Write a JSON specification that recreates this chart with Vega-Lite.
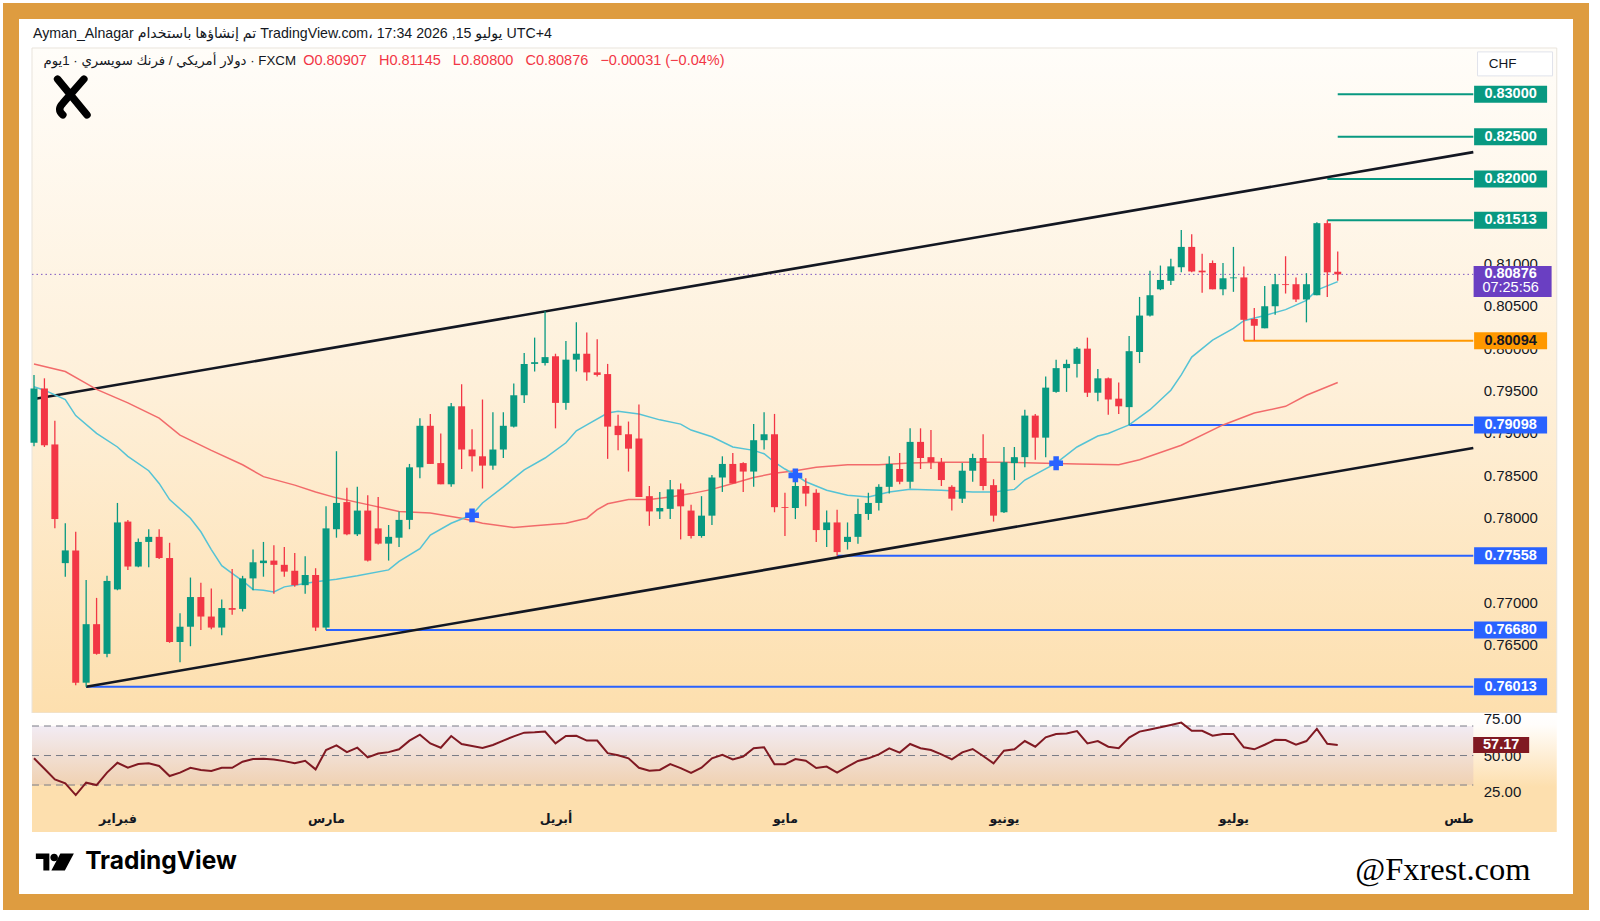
{
"$schema": "https://vega.github.io/schema/vega-lite/v6.json",
"width": 1570, "height": 891,
"autosize": {"type": "none"},
"padding": {"left": 11, "top": 11, "right": 19, "bottom": 19},
"background": "#FFFFFF",
"config": {"view": {"stroke": "#DE9C40", "strokeWidth": 16, "fill": "#FFFFFF"}, "axisY": {"disable": true}, "font": "Liberation Sans, DejaVu Sans"},
"datasets": {
"candles": [
{"d":"2026-01-21","o":0.7889,"h":0.7969,"l":0.7885,"c":0.7953},
{"d":"2026-01-22","o":0.7953,"h":0.7965,"l":0.7884,"c":0.7886},
{"d":"2026-01-23","o":0.7887,"h":0.7915,"l":0.7788,"c":0.7799},
{"d":"2026-01-26","o":0.7747,"h":0.7794,"l":0.7731,"c":0.7762},
{"d":"2026-01-27","o":0.7762,"h":0.7784,"l":0.7603,"c":0.7606},
{"d":"2026-01-28","o":0.7606,"h":0.7727,"l":0.76013,"c":0.7675},
{"d":"2026-01-29","o":0.7675,"h":0.7706,"l":0.7639,"c":0.7640},
{"d":"2026-01-30","o":0.7640,"h":0.7732,"l":0.7636,"c":0.7726},
{"d":"2026-02-02","o":0.7716,"h":0.7818,"l":0.7715,"c":0.7795},
{"d":"2026-02-03","o":0.7796,"h":0.7798,"l":0.7739,"c":0.7743},
{"d":"2026-02-04","o":0.7743,"h":0.7776,"l":0.7742,"c":0.7772},
{"d":"2026-02-05","o":0.7772,"h":0.7787,"l":0.7742,"c":0.7778},
{"d":"2026-02-06","o":0.7778,"h":0.7787,"l":0.7752,"c":0.7753},
{"d":"2026-02-09","o":0.7753,"h":0.7771,"l":0.7653,"c":0.7654},
{"d":"2026-02-10","o":0.7654,"h":0.7688,"l":0.7630,"c":0.7672},
{"d":"2026-02-11","o":0.7672,"h":0.7730,"l":0.7649,"c":0.7707},
{"d":"2026-02-12","o":0.7707,"h":0.7724,"l":0.7668,"c":0.7684},
{"d":"2026-02-13","o":0.7684,"h":0.7717,"l":0.7669,"c":0.7671},
{"d":"2026-02-16","o":0.7671,"h":0.7704,"l":0.7662,"c":0.7694},
{"d":"2026-02-17","o":0.7694,"h":0.7740,"l":0.7686,"c":0.7692},
{"d":"2026-02-18","o":0.7693,"h":0.7732,"l":0.7690,"c":0.7729},
{"d":"2026-02-19","o":0.7729,"h":0.7763,"l":0.7715,"c":0.7748},
{"d":"2026-02-20","o":0.7747,"h":0.7772,"l":0.7731,"c":0.7750},
{"d":"2026-02-23","o":0.7750,"h":0.7768,"l":0.7711,"c":0.7745},
{"d":"2026-02-24","o":0.7745,"h":0.7766,"l":0.7731,"c":0.7737},
{"d":"2026-02-25","o":0.7738,"h":0.7759,"l":0.7719,"c":0.7721},
{"d":"2026-02-26","o":0.7721,"h":0.7755,"l":0.7711,"c":0.7733},
{"d":"2026-02-27","o":0.7733,"h":0.7741,"l":0.7667,"c":0.7671},
{"d":"2026-03-02","o":0.7671,"h":0.7814,"l":0.7668,"c":0.7788},
{"d":"2026-03-03","o":0.7787,"h":0.7879,"l":0.7777,"c":0.7818},
{"d":"2026-03-04","o":0.7819,"h":0.7836,"l":0.7780,"c":0.7781},
{"d":"2026-03-05","o":0.7781,"h":0.7837,"l":0.7779,"c":0.7809},
{"d":"2026-03-06","o":0.7809,"h":0.7827,"l":0.7749,"c":0.7750},
{"d":"2026-03-09","o":0.7788,"h":0.7825,"l":0.7769,"c":0.7770},
{"d":"2026-03-10","o":0.7770,"h":0.7792,"l":0.7750,"c":0.7778},
{"d":"2026-03-11","o":0.7777,"h":0.7808,"l":0.7766,"c":0.7798},
{"d":"2026-03-12","o":0.7798,"h":0.7864,"l":0.7787,"c":0.7860},
{"d":"2026-03-13","o":0.7860,"h":0.7918,"l":0.7847,"c":0.7909},
{"d":"2026-03-16","o":0.7909,"h":0.7923,"l":0.7864,"c":0.7864},
{"d":"2026-03-17","o":0.7865,"h":0.7900,"l":0.7840,"c":0.7840},
{"d":"2026-03-18","o":0.7840,"h":0.7936,"l":0.7837,"c":0.7932},
{"d":"2026-03-19","o":0.7932,"h":0.7958,"l":0.7858,"c":0.7881},
{"d":"2026-03-20","o":0.7881,"h":0.7905,"l":0.7855,"c":0.7873},
{"d":"2026-03-23","o":0.7873,"h":0.7940,"l":0.7835,"c":0.7862},
{"d":"2026-03-24","o":0.7862,"h":0.7925,"l":0.7857,"c":0.7881},
{"d":"2026-03-25","o":0.7881,"h":0.7925,"l":0.7871,"c":0.7909},
{"d":"2026-03-26","o":0.7908,"h":0.7959,"l":0.7907,"c":0.7945},
{"d":"2026-03-27","o":0.7945,"h":0.7995,"l":0.7936,"c":0.7982},
{"d":"2026-03-30","o":0.7982,"h":0.8013,"l":0.7973,"c":0.7984},
{"d":"2026-03-31","o":0.7983,"h":0.8044,"l":0.7980,"c":0.7990},
{"d":"2026-04-01","o":0.7991,"h":0.7994,"l":0.7906,"c":0.7936},
{"d":"2026-04-02","o":0.7936,"h":0.8009,"l":0.7928,"c":0.7987},
{"d":"2026-04-03","o":0.7987,"h":0.8031,"l":0.7973,"c":0.7994},
{"d":"2026-04-06","o":0.7994,"h":0.8019,"l":0.7962,"c":0.7972},
{"d":"2026-04-07","o":0.7972,"h":0.8011,"l":0.7967,"c":0.7969},
{"d":"2026-04-08","o":0.7970,"h":0.7982,"l":0.7870,"c":0.7908},
{"d":"2026-04-09","o":0.7909,"h":0.7922,"l":0.7880,"c":0.7898},
{"d":"2026-04-10","o":0.7899,"h":0.7914,"l":0.7855,"c":0.7882},
{"d":"2026-04-13","o":0.7894,"h":0.7934,"l":0.7825,"c":0.7825},
{"d":"2026-04-14","o":0.7826,"h":0.7838,"l":0.7791,"c":0.7808},
{"d":"2026-04-15","o":0.7808,"h":0.7831,"l":0.7799,"c":0.7812},
{"d":"2026-04-16","o":0.7811,"h":0.7845,"l":0.7799,"c":0.7834},
{"d":"2026-04-17","o":0.7834,"h":0.7841,"l":0.7775,"c":0.7814},
{"d":"2026-04-20","o":0.7809,"h":0.7816,"l":0.7776,"c":0.7779},
{"d":"2026-04-21","o":0.7779,"h":0.7826,"l":0.7777,"c":0.7803},
{"d":"2026-04-22","o":0.7803,"h":0.7851,"l":0.7792,"c":0.7848},
{"d":"2026-04-23","o":0.7848,"h":0.7873,"l":0.7831,"c":0.7864},
{"d":"2026-04-24","o":0.7864,"h":0.7877,"l":0.7841,"c":0.7841},
{"d":"2026-04-27","o":0.7865,"h":0.7866,"l":0.7831,"c":0.7855},
{"d":"2026-04-28","o":0.7855,"h":0.7911,"l":0.7837,"c":0.7892},
{"d":"2026-04-29","o":0.7892,"h":0.7925,"l":0.7881,"c":0.7899},
{"d":"2026-04-30","o":0.7899,"h":0.7923,"l":0.7807,"c":0.7813},
{"d":"2026-05-01","o":0.7813,"h":0.7830,"l":0.7779,"c":0.7812},
{"d":"2026-05-04","o":0.7812,"h":0.7849,"l":0.7799,"c":0.7838},
{"d":"2026-05-05","o":0.7838,"h":0.7847,"l":0.7814,"c":0.7829},
{"d":"2026-05-06","o":0.7830,"h":0.7834,"l":0.7772,"c":0.7786},
{"d":"2026-05-07","o":0.7786,"h":0.7809,"l":0.7766,"c":0.7795},
{"d":"2026-05-08","o":0.7795,"h":0.7810,"l":0.77558,"c":0.7760},
{"d":"2026-05-11","o":0.7772,"h":0.7795,"l":0.7763,"c":0.7778},
{"d":"2026-05-12","o":0.7778,"h":0.7823,"l":0.7770,"c":0.7805},
{"d":"2026-05-13","o":0.7805,"h":0.7830,"l":0.7798,"c":0.7818},
{"d":"2026-05-14","o":0.7818,"h":0.7840,"l":0.7809,"c":0.7837},
{"d":"2026-05-15","o":0.7837,"h":0.7873,"l":0.7829,"c":0.7864},
{"d":"2026-05-18","o":0.7858,"h":0.7877,"l":0.7840,"c":0.7843},
{"d":"2026-05-19","o":0.7843,"h":0.7906,"l":0.7835,"c":0.7890},
{"d":"2026-05-20","o":0.7890,"h":0.7906,"l":0.7858,"c":0.7871},
{"d":"2026-05-21","o":0.7872,"h":0.7904,"l":0.7858,"c":0.7866},
{"d":"2026-05-22","o":0.7866,"h":0.7871,"l":0.7838,"c":0.7845},
{"d":"2026-05-25","o":0.7837,"h":0.7839,"l":0.7809,"c":0.7823},
{"d":"2026-05-26","o":0.7823,"h":0.7865,"l":0.7818,"c":0.7856},
{"d":"2026-05-27","o":0.7856,"h":0.7876,"l":0.7843,"c":0.7871},
{"d":"2026-05-28","o":0.7871,"h":0.7899,"l":0.7833,"c":0.7838},
{"d":"2026-05-29","o":0.7839,"h":0.7846,"l":0.7796,"c":0.7803},
{"d":"2026-06-01","o":0.7807,"h":0.7884,"l":0.7806,"c":0.7866},
{"d":"2026-06-02","o":0.7865,"h":0.7884,"l":0.7845,"c":0.7872},
{"d":"2026-06-03","o":0.7872,"h":0.7928,"l":0.7860,"c":0.7921},
{"d":"2026-06-04","o":0.7921,"h":0.7923,"l":0.7869,"c":0.7895},
{"d":"2026-06-05","o":0.7895,"h":0.7967,"l":0.7872,"c":0.7954},
{"d":"2026-06-08","o":0.7949,"h":0.7987,"l":0.7948,"c":0.7977},
{"d":"2026-06-09","o":0.7977,"h":0.7987,"l":0.7949,"c":0.7982},
{"d":"2026-06-10","o":0.7982,"h":0.8002,"l":0.7966,"c":0.8000},
{"d":"2026-06-11","o":0.8000,"h":0.8013,"l":0.7943,"c":0.7948},
{"d":"2026-06-12","o":0.7948,"h":0.7976,"l":0.7938,"c":0.7965},
{"d":"2026-06-15","o":0.7965,"h":0.7966,"l":0.7922,"c":0.7940},
{"d":"2026-06-16","o":0.7941,"h":0.7960,"l":0.7923,"c":0.7932},
{"d":"2026-06-17","o":0.7931,"h":0.8015,"l":0.79098,"c":0.7997},
{"d":"2026-06-18","o":0.7996,"h":0.8061,"l":0.7983,"c":0.8039},
{"d":"2026-06-19","o":0.8039,"h":0.8092,"l":0.8038,"c":0.8063},
{"d":"2026-06-22","o":0.8070,"h":0.8098,"l":0.8069,"c":0.8081},
{"d":"2026-06-23","o":0.8080,"h":0.8106,"l":0.8075,"c":0.8097},
{"d":"2026-06-24","o":0.8096,"h":0.8140,"l":0.8090,"c":0.8120},
{"d":"2026-06-25","o":0.8120,"h":0.8135,"l":0.8090,"c":0.8091},
{"d":"2026-06-26","o":0.8092,"h":0.8112,"l":0.8066,"c":0.8090},
{"d":"2026-06-29","o":0.8101,"h":0.8104,"l":0.8070,"c":0.8070},
{"d":"2026-06-30","o":0.8070,"h":0.8101,"l":0.8063,"c":0.8083},
{"d":"2026-07-01","o":0.8083,"h":0.8120,"l":0.8067,"c":0.8084},
{"d":"2026-07-02","o":0.8084,"h":0.8097,"l":0.80094,"c":0.8034},
{"d":"2026-07-03","o":0.8035,"h":0.8048,"l":0.8010,"c":0.8027},
{"d":"2026-07-06","o":0.8024,"h":0.8074,"l":0.8024,"c":0.8050},
{"d":"2026-07-07","o":0.8050,"h":0.8088,"l":0.8040,"c":0.8076},
{"d":"2026-07-08","o":0.8076,"h":0.8109,"l":0.8065,"c":0.8075},
{"d":"2026-07-09","o":0.8076,"h":0.8084,"l":0.8055,"c":0.8058},
{"d":"2026-07-10","o":0.8058,"h":0.8089,"l":0.8031,"c":0.8076},
{"d":"2026-07-13","o":0.8063,"h":0.8149,"l":0.8063,"c":0.8148},
{"d":"2026-07-14","o":0.8148,"h":0.81513,"l":0.8061,"c":0.8090},
{"d":"2026-07-15","o":0.80907,"h":0.81145,"l":0.80800,"c":0.80876}
],
"rsi": [
{"d":"2026-01-21","v":48.1},{"d":"2026-01-22","v":41.0},{"d":"2026-01-23","v":33.8},{"d":"2026-01-26","v":31.1},{"d":"2026-01-27","v":23.2},{"d":"2026-01-28","v":31.6},{"d":"2026-01-29","v":30.0},{"d":"2026-01-30","v":38.4},
{"d":"2026-02-02","v":45.1},{"d":"2026-02-03","v":41.7},{"d":"2026-02-04","v":44.2},{"d":"2026-02-05","v":44.7},{"d":"2026-02-06","v":42.9},{"d":"2026-02-09","v":36.1},{"d":"2026-02-10","v":38.4},{"d":"2026-02-11","v":41.7},{"d":"2026-02-12","v":40.2},{"d":"2026-02-13","v":39.5},{"d":"2026-02-16","v":41.7},{"d":"2026-02-17","v":41.7},{"d":"2026-02-18","v":45.8},{"d":"2026-02-19","v":47.6},{"d":"2026-02-20","v":47.8},{"d":"2026-02-23","v":47.3},{"d":"2026-02-24","v":46.2},{"d":"2026-02-25","v":44.7},{"d":"2026-02-26","v":46.4},{"d":"2026-02-27","v":40.6},
{"d":"2026-03-02","v":53.7},{"d":"2026-03-03","v":56.9},{"d":"2026-03-04","v":52.3},{"d":"2026-03-05","v":55.3},{"d":"2026-03-06","v":48.7},{"d":"2026-03-09","v":51.4},{"d":"2026-03-10","v":52.3},{"d":"2026-03-11","v":54.2},{"d":"2026-03-12","v":60.1},{"d":"2026-03-13","v":64.1},{"d":"2026-03-16","v":58.2},{"d":"2026-03-17","v":55.3},{"d":"2026-03-18","v":63.2},{"d":"2026-03-19","v":57.8},{"d":"2026-03-20","v":56.4},{"d":"2026-03-23","v":55.1},{"d":"2026-03-24","v":57.1},{"d":"2026-03-25","v":60.1},{"d":"2026-03-26","v":63.0},{"d":"2026-03-27","v":65.5},{"d":"2026-03-30","v":65.7},{"d":"2026-03-31","v":66.2},
{"d":"2026-04-01","v":58.2},{"d":"2026-04-02","v":63.2},{"d":"2026-04-03","v":63.4},{"d":"2026-04-06","v":60.1},{"d":"2026-04-07","v":60.1},{"d":"2026-04-08","v":51.6},{"d":"2026-04-09","v":50.2},{"d":"2026-04-10","v":48.1},{"d":"2026-04-13","v":41.7},{"d":"2026-04-14","v":39.7},{"d":"2026-04-15","v":40.2},{"d":"2026-04-16","v":44.2},{"d":"2026-04-17","v":41.5},{"d":"2026-04-20","v":38.2},{"d":"2026-04-21","v":41.7},{"d":"2026-04-22","v":48.1},{"d":"2026-04-23","v":50.5},{"d":"2026-04-24","v":47.4},{"d":"2026-04-27","v":49.3},{"d":"2026-04-28","v":54.9},{"d":"2026-04-29","v":55.6},{"d":"2026-04-30","v":44.0},
{"d":"2026-05-01","v":44.0},{"d":"2026-05-04","v":47.6},{"d":"2026-05-05","v":46.5},{"d":"2026-05-06","v":41.5},{"d":"2026-05-07","v":42.5},{"d":"2026-05-08","v":38.4},{"d":"2026-05-11","v":42.5},{"d":"2026-05-12","v":46.3},{"d":"2026-05-13","v":48.1},{"d":"2026-05-14","v":50.8},{"d":"2026-05-15","v":54.9},{"d":"2026-05-18","v":52.0},{"d":"2026-05-19","v":57.8},{"d":"2026-05-20","v":54.9},{"d":"2026-05-21","v":53.7},{"d":"2026-05-22","v":50.8},{"d":"2026-05-25","v":47.4},{"d":"2026-05-26","v":52.1},{"d":"2026-05-27","v":54.4},{"d":"2026-05-28","v":49.7},{"d":"2026-05-29","v":44.7},
{"d":"2026-06-01","v":53.3},{"d":"2026-06-02","v":54.2},{"d":"2026-06-03","v":59.8},{"d":"2026-06-04","v":56.0},{"d":"2026-06-05","v":62.3},{"d":"2026-06-08","v":64.6},{"d":"2026-06-09","v":65.0},{"d":"2026-06-10","v":66.6},{"d":"2026-06-11","v":58.2},{"d":"2026-06-12","v":59.8},{"d":"2026-06-15","v":56.0},{"d":"2026-06-16","v":54.9},{"d":"2026-06-17","v":62.1},{"d":"2026-06-18","v":66.2},{"d":"2026-06-19","v":67.7},{"d":"2026-06-22","v":69.1},{"d":"2026-06-23","v":70.7},{"d":"2026-06-24","v":72.3},{"d":"2026-06-25","v":66.8},{"d":"2026-06-26","v":66.8},{"d":"2026-06-29","v":63.4},{"d":"2026-06-30","v":64.6},
{"d":"2026-07-01","v":64.6},{"d":"2026-07-02","v":55.6},{"d":"2026-07-03","v":54.2},{"d":"2026-07-06","v":57.3},{"d":"2026-07-07","v":60.7},{"d":"2026-07-08","v":60.5},{"d":"2026-07-09","v":57.3},{"d":"2026-07-10","v":59.8},{"d":"2026-07-13","v":68.0},{"d":"2026-07-14","v":58.0},{"d":"2026-07-15","v":57.17}
],
"fast": [
{"d":"2026-01-21","v":0.7955},{"d":"2026-01-22","v":0.7951},{"d":"2026-01-26","v":0.7940},{"d":"2026-01-27","v":0.7921},{"d":"2026-01-29","v":0.7900},{"d":"2026-02-02","v":0.7884},{"d":"2026-02-03","v":0.7873},{"d":"2026-02-05","v":0.7856},{"d":"2026-02-06","v":0.7841},{"d":"2026-02-09","v":0.7822},{"d":"2026-02-11","v":0.7800},{"d":"2026-02-12","v":0.7784},{"d":"2026-02-13","v":0.7763},{"d":"2026-02-16","v":0.7744},{"d":"2026-02-17","v":0.7735},{"d":"2026-02-18","v":0.7726},{"d":"2026-02-19","v":0.7716},{"d":"2026-02-20","v":0.7715},{"d":"2026-02-23","v":0.7713},{"d":"2026-02-24","v":0.7719},{"d":"2026-02-26","v":0.7723},{"d":"2026-02-27","v":0.7725},{"d":"2026-03-03","v":0.7728},{"d":"2026-03-05","v":0.7732},{"d":"2026-03-10","v":0.7739},{"d":"2026-03-11","v":0.7749},{"d":"2026-03-13","v":0.7764},{"d":"2026-03-16","v":0.7780},{"d":"2026-03-18","v":0.7794},{"d":"2026-03-20","v":0.7804},{"d":"2026-03-23","v":0.7818},{"d":"2026-03-25","v":0.7837},{"d":"2026-03-27","v":0.7857},{"d":"2026-03-31","v":0.7871},{"d":"2026-04-02","v":0.7889},{"d":"2026-04-03","v":0.7903},{"d":"2026-04-06","v":0.7910},{"d":"2026-04-08","v":0.7924},{"d":"2026-04-09","v":0.7926},{"d":"2026-04-13","v":0.7923},{"d":"2026-04-15","v":0.7916},{"d":"2026-04-17","v":0.7911},{"d":"2026-04-20","v":0.7904},{"d":"2026-04-22","v":0.7896},{"d":"2026-04-24","v":0.7884},{"d":"2026-04-28","v":0.7880},{"d":"2026-04-29","v":0.7876},{"d":"2026-04-30","v":0.7866},{"d":"2026-05-01","v":0.7858},{"d":"2026-05-04","v":0.7851},{"d":"2026-05-05","v":0.7843},{"d":"2026-05-07","v":0.7833},{"d":"2026-05-11","v":0.7827},{"d":"2026-05-13","v":0.7825},{"d":"2026-05-15","v":0.7831},{"d":"2026-05-19","v":0.7834},{"d":"2026-05-22","v":0.7833},{"d":"2026-05-27","v":0.7831},{"d":"2026-05-29","v":0.7831},{"d":"2026-06-02","v":0.7834},{"d":"2026-06-03","v":0.7845},{"d":"2026-06-08","v":0.7865},{"d":"2026-06-10","v":0.7884},{"d":"2026-06-12","v":0.7897},{"d":"2026-06-15","v":0.7900},{"d":"2026-06-16","v":0.7905},{"d":"2026-06-17","v":0.7910},{"d":"2026-06-19","v":0.7928},{"d":"2026-06-23","v":0.7951},{"d":"2026-06-24","v":0.7969},{"d":"2026-06-25","v":0.7990},{"d":"2026-06-29","v":0.8010},{"d":"2026-07-01","v":0.8024},{"d":"2026-07-02","v":0.8033},{"d":"2026-07-06","v":0.8039},{"d":"2026-07-08","v":0.8046},{"d":"2026-07-10","v":0.8057},{"d":"2026-07-13","v":0.8069},{"d":"2026-07-15","v":0.8079}
],
"slow": [
{"d":"2026-01-21","v":0.7982},{"d":"2026-01-26","v":0.7973},{"d":"2026-01-28","v":0.7959},{"d":"2026-01-29","v":0.7952},{"d":"2026-02-03","v":0.7936},{"d":"2026-02-06","v":0.7918},{"d":"2026-02-10","v":0.7898},{"d":"2026-02-13","v":0.7880},{"d":"2026-02-18","v":0.7863},{"d":"2026-02-20","v":0.7849},{"d":"2026-02-25","v":0.7839},{"d":"2026-02-27","v":0.7831},{"d":"2026-03-03","v":0.7824},{"d":"2026-03-06","v":0.7816},{"d":"2026-03-11","v":0.7808},{"d":"2026-03-16","v":0.7806},{"d":"2026-03-19","v":0.7800},{"d":"2026-03-23","v":0.7794},{"d":"2026-03-26","v":0.7789},{"d":"2026-03-30","v":0.7791},{"d":"2026-04-02","v":0.7794},{"d":"2026-04-06","v":0.7800},{"d":"2026-04-07","v":0.7810},{"d":"2026-04-08","v":0.7817},{"d":"2026-04-10","v":0.7822},{"d":"2026-04-14","v":0.7822},{"d":"2026-04-16","v":0.7825},{"d":"2026-04-20","v":0.7829},{"d":"2026-04-22","v":0.7834},{"d":"2026-04-24","v":0.7841},{"d":"2026-04-28","v":0.7848},{"d":"2026-04-30","v":0.7853},{"d":"2026-05-04","v":0.7856},{"d":"2026-05-06","v":0.7860},{"d":"2026-05-11","v":0.7863},{"d":"2026-05-14","v":0.7863},{"d":"2026-05-19","v":0.7865},{"d":"2026-05-22","v":0.7866},{"d":"2026-05-27","v":0.7866},{"d":"2026-06-01","v":0.7866},{"d":"2026-06-04","v":0.7865},{"d":"2026-06-10","v":0.7864},{"d":"2026-06-16","v":0.7863},{"d":"2026-06-18","v":0.7869},{"d":"2026-06-24","v":0.7886},{"d":"2026-06-30","v":0.7910},{"d":"2026-07-03","v":0.7924},{"d":"2026-07-08","v":0.7932},{"d":"2026-07-10","v":0.7945},{"d":"2026-07-15","v":0.7960}
],
"channel": [
{"name":"upper","d":"2026-01-21","p":0.79405},{"name":"upper","d":"2026-08-03","p":0.82318},
{"name":"lower","d":"2026-01-28","p":0.76013},{"name":"lower","d":"2026-08-03","p":0.78827}
],
"levels": [
{"p":0.83000,"kind":"target","start":"2026-07-15"},
{"p":0.82500,"kind":"target","start":"2026-07-15"},
{"p":0.82000,"kind":"target","start":"2026-07-14"},
{"p":0.81513,"kind":"target","start":"2026-07-14"},
{"p":0.80094,"kind":"pivot","start":"2026-07-02"},
{"p":0.79098,"kind":"support","start":"2026-06-17"},
{"p":0.77558,"kind":"support","start":"2026-05-08"},
{"p":0.76680,"kind":"support","start":"2026-03-02"},
{"p":0.76013,"kind":"support","start":"2026-01-28"}
],
"crosses": [
{"d":"2026-03-20","p":0.78034},{"d":"2026-05-04","p":0.78504},{"d":"2026-06-08","p":0.78648}
],
"ticks": [{"v":0.765},{"v":0.770},{"v":0.780},{"v":0.785},{"v":0.790},{"v":0.795},{"v":0.800},{"v":0.805},{"v":0.810}],
"rsiTicks": [{"v":75},{"v":50},{"v":25}],
"rsiLevels": [{"v":70},{"v":50},{"v":30}]
},
"layer": [
{"layer": [
 {"data": {"values": [{"pane": "main"}]},
  "mark": {"type": "rect", "xOffset": -2, "stroke": "#E9E4DC", "strokeWidth": 1,
   "color": {"gradient": "linear", "x1": 0, "y1": 0, "x2": 0, "y2": 1, "stops": [{"offset": 0, "color": "#FFFDF9"}, {"offset": 0.5, "color": "#FEF0DA"}, {"offset": 1, "color": "#FDDFAE"}]}},
  "encoding": {"x": {"datum": "2026-01-21", "type": "ordinal"}, "x2": {"datum": "2026-08-13"},
   "y": {"datum": 0.835461, "type": "quantitative", "scale": {"domain": [0.73473, 0.839825], "nice": false, "zero": false}}, "y2": {"datum": 0.757023}}},
 {"data": {"values": [{"pane": "rsi"}]},
  "mark": {"type": "rect", "xOffset": -2,
   "color": {"gradient": "linear", "x1": 0, "y1": 0, "x2": 0, "y2": 1, "stops": [{"offset": 0, "color": "#FFFFFF"}, {"offset": 0.1, "color": "#FFFDFB"}, {"offset": 0.62, "color": "#FDDFAE"}, {"offset": 1, "color": "#FDDFAE"}]}},
  "encoding": {"x": {"datum": "2026-01-21", "type": "ordinal"}, "x2": {"datum": "2026-08-13"},
   "y": {"datum": 0.757023, "type": "quantitative"}, "y2": {"datum": 0.742986}}},
 {"data": {"name": "ticks"},
  "mark": {"type": "text", "align": "left", "fontSize": 15, "color": "#131722"},
  "encoding": {"x": {"datum": "2026-08-04", "type": "ordinal"}, "y": {"field": "v", "type": "quantitative"}, "text": {"field": "v", "type": "quantitative", "format": ".5f"}}},
 {"data": {"values": [{"p": 0.80876}]},
  "mark": {"type": "rule", "xOffset": -2, "color": "#7E57C2", "strokeWidth": 1, "strokeDash": [1.5, 3]},
  "encoding": {"x": {"datum": "2026-01-21", "type": "ordinal"}, "x2": {"datum": "2026-08-03"}, "y": {"field": "p", "type": "quantitative"}}},
 {"data": {"name": "levels"},
  "mark": {"type": "rule", "strokeWidth": 2},
  "encoding": {"x": {"field": "start", "type": "ordinal"}, "x2": {"datum": "2026-08-03"}, "y": {"field": "p", "type": "quantitative"},
   "color": {"field": "kind", "type": "nominal", "scale": {"domain": ["target", "pivot", "support"], "range": ["#089981", "#FF9800", "#2962FF"]}, "legend": null}}},
 {"data": {"name": "channel"},
  "mark": {"type": "line", "color": "#131722", "strokeWidth": 2.6},
  "encoding": {"x": {"field": "d", "type": "ordinal"}, "y": {"field": "p", "type": "quantitative"}, "detail": {"field": "name"}}},
 {"data": {"name": "slow"},
  "mark": {"type": "line", "color": "#F26B6B", "strokeWidth": 1.5},
  "encoding": {"x": {"field": "d", "type": "ordinal"}, "y": {"field": "v", "type": "quantitative"}}},
 {"data": {"name": "fast"},
  "mark": {"type": "line", "color": "#55C3D5", "strokeWidth": 1.5},
  "encoding": {"x": {"field": "d", "type": "ordinal"}, "y": {"field": "v", "type": "quantitative"}}},
 {"data": {"name": "candles"},
  "mark": {"type": "rule", "strokeWidth": 1.3},
  "encoding": {"x": {"field": "d", "type": "ordinal"}, "y": {"field": "l", "type": "quantitative"}, "y2": {"field": "h"},
   "color": {"condition": {"test": "datum.c >= datum.o", "value": "#089981"}, "value": "#F23645"}}},
 {"data": {"name": "candles"},
  "mark": {"type": "bar", "width": 7},
  "encoding": {
   "x": {"field": "d", "type": "ordinal",
    "scale": {"type": "point", "round": false, "padding": 0.765, "align": 0.134, "domain": ["2026-01-19","2026-01-20","2026-01-21","2026-01-22","2026-01-23","2026-01-26","2026-01-27","2026-01-28","2026-01-29","2026-01-30","2026-02-02","2026-02-03","2026-02-04","2026-02-05","2026-02-06","2026-02-09","2026-02-10","2026-02-11","2026-02-12","2026-02-13","2026-02-16","2026-02-17","2026-02-18","2026-02-19","2026-02-20","2026-02-23","2026-02-24","2026-02-25","2026-02-26","2026-02-27","2026-03-02","2026-03-03","2026-03-04","2026-03-05","2026-03-06","2026-03-09","2026-03-10","2026-03-11","2026-03-12","2026-03-13","2026-03-16","2026-03-17","2026-03-18","2026-03-19","2026-03-20","2026-03-23","2026-03-24","2026-03-25","2026-03-26","2026-03-27","2026-03-30","2026-03-31","2026-04-01","2026-04-02","2026-04-03","2026-04-06","2026-04-07","2026-04-08","2026-04-09","2026-04-10","2026-04-13","2026-04-14","2026-04-15","2026-04-16","2026-04-17","2026-04-20","2026-04-21","2026-04-22","2026-04-23","2026-04-24","2026-04-27","2026-04-28","2026-04-29","2026-04-30","2026-05-01","2026-05-04","2026-05-05","2026-05-06","2026-05-07","2026-05-08","2026-05-11","2026-05-12","2026-05-13","2026-05-14","2026-05-15","2026-05-18","2026-05-19","2026-05-20","2026-05-21","2026-05-22","2026-05-25","2026-05-26","2026-05-27","2026-05-28","2026-05-29","2026-06-01","2026-06-02","2026-06-03","2026-06-04","2026-06-05","2026-06-08","2026-06-09","2026-06-10","2026-06-11","2026-06-12","2026-06-15","2026-06-16","2026-06-17","2026-06-18","2026-06-19","2026-06-22","2026-06-23","2026-06-24","2026-06-25","2026-06-26","2026-06-29","2026-06-30","2026-07-01","2026-07-02","2026-07-03","2026-07-06","2026-07-07","2026-07-08","2026-07-09","2026-07-10","2026-07-13","2026-07-14","2026-07-15","2026-07-16","2026-07-17","2026-07-20","2026-07-21","2026-07-22","2026-07-23","2026-07-24","2026-07-27","2026-07-28","2026-07-29","2026-07-30","2026-07-31","2026-08-03","2026-08-04","2026-08-05","2026-08-06","2026-08-07","2026-08-10","2026-08-11","2026-08-12","2026-08-13","2026-08-14"]},
    "axis": {"orient": "bottom", "offset": -90, "title": null, "domain": false, "ticks": false, "grid": false, "labelAngle": 0, "labelPadding": 0, "labelBaseline": "top", "labelOverlap": false, "labelBound": false, "zindex": 1,
     "values": ["2026-02-02","2026-03-02","2026-04-01","2026-05-01","2026-06-01","2026-07-01","2026-08-03"],
     "labelExpr": "datum.value == '2026-02-02' ? 'فبراير' : datum.value == '2026-03-02' ? 'مارس' : datum.value == '2026-04-01' ? 'أبريل' : datum.value == '2026-05-01' ? 'مايو' : datum.value == '2026-06-01' ? 'يونيو' : datum.value == '2026-07-01' ? 'يوليو' : 'طس'",
     "labelAlign": {"condition": {"test": "datum.value == '2026-08-03'", "value": "right"}, "value": "center"},
     "labelFont": "DejaVu Sans", "labelFontSize": 12.5, "labelFontWeight": "bold", "labelColor": "#131722"}},
   "y": {"field": "o", "type": "quantitative"}, "y2": {"field": "c"},
   "color": {"condition": {"test": "datum.c >= datum.o", "value": "#089981"}, "value": "#F23645"}}},
 {"data": {"name": "crosses"},
  "mark": {"type": "point", "shape": "cross", "filled": true, "size": 190, "opacity": 1, "color": "#2962FF"},
  "encoding": {"x": {"field": "d", "type": "ordinal"}, "y": {"field": "p", "type": "quantitative"}}},
 {"data": {"name": "levels"},
  "mark": {"type": "point", "shape": "M-3.65,-0.85H3.65V0.85H-3.65Z", "filled": true, "size": 400, "opacity": 1, "strokeWidth": 0, "xOffset": 6},
  "encoding": {"x": {"datum": "2026-08-06", "type": "ordinal"}, "y": {"field": "p", "type": "quantitative"},
   "color": {"field": "kind", "type": "nominal", "scale": {"domain": ["target", "pivot", "support"], "range": ["#089981", "#FF9800", "#2962FF"]}, "legend": null}}},
 {"data": {"name": "levels"},
  "mark": {"type": "text", "fontSize": 14.5, "fontWeight": "bold", "xOffset": 6},
  "encoding": {"x": {"datum": "2026-08-06", "type": "ordinal"}, "y": {"field": "p", "type": "quantitative"}, "text": {"field": "p", "type": "quantitative", "format": ".5f"},
   "color": {"condition": {"test": "datum.kind == 'pivot'", "value": "#131722"}, "value": "#FFFFFF"}}},
 {"data": {"values": [{"p": 0.80876}]},
  "mark": {"type": "point", "shape": "M-3.9,-1.55H3.9V1.55H-3.9Z", "filled": true, "size": 400, "opacity": 1, "strokeWidth": 0, "color": "#6A3FC2", "xOffset": 8},
  "encoding": {"x": {"datum": "2026-08-06", "type": "ordinal"}, "y": {"datum": 0.807919, "type": "quantitative"}}},
 {"data": {"values": [{"t": "0.80876"}]},
  "mark": {"type": "text", "fontSize": 14.5, "fontWeight": "bold", "color": "#FFFFFF", "xOffset": 6},
  "encoding": {"x": {"datum": "2026-08-06", "type": "ordinal"}, "y": {"datum": 0.80876, "type": "quantitative"}, "text": {"field": "t"}}},
 {"data": {"values": [{"t": "07:25:56"}]},
  "mark": {"type": "text", "fontSize": 14.5, "color": "#FFFFFF", "xOffset": 6},
  "encoding": {"x": {"datum": "2026-08-06", "type": "ordinal"}, "y": {"datum": 0.807117, "type": "quantitative"}, "text": {"field": "t"}}},
 {"data": {"values": [{"t": "CHF"}]},
  "mark": {"type": "point", "shape": "M-3.75,-1.2H3.75V1.2H-3.75Z", "filled": true, "size": 400, "opacity": 1, "color": "#FFFFFF", "stroke": "#E0E3EB", "strokeWidth": 1},
  "encoding": {"x": {"datum": "2026-08-07", "type": "ordinal"}, "y": {"datum": 0.833585, "type": "quantitative"}}},
 {"data": {"values": [{"t": "CHF"}]},
  "mark": {"type": "text", "align": "left", "fontSize": 13.5, "color": "#131722", "xOffset": 5},
  "encoding": {"x": {"datum": "2026-08-04", "type": "ordinal"}, "y": {"datum": 0.833585, "type": "quantitative"}, "text": {"field": "t"}}},
 {"data": {"values": [{"t": "Ayman_Alnagar تم إنشاؤها باستخدام TradingView.com، يوليو 15, 2026 17:34 UTC+4"}]},
  "mark": {"type": "text", "align": "left", "fontSize": 14.2, "color": "#131722", "xOffset": -1},
  "encoding": {"x": {"datum": "2026-01-21", "type": "ordinal"}, "y": {"datum": 0.837112, "type": "quantitative"}, "text": {"field": "t"}}},
 {"data": {"values": [{"t": "دولار أمريكي / فرنك سويسري · 1يوم · FXCM"}]},
  "mark": {"type": "text", "align": "left", "fontSize": 13.3, "color": "#131722", "xOffset": -1},
  "encoding": {"x": {"datum": "2026-01-22", "type": "ordinal"}, "y": {"datum": 0.833927, "type": "quantitative"}, "text": {"field": "t"}}},
 {"data": {"values": [{"t": "O0.80907\u00a0\u00a0\u00a0H0.81145\u00a0\u00a0\u00a0L0.80800\u00a0\u00a0\u00a0C0.80876\u00a0\u00a0\u00a0−0.00031 (−0.04%)"}]},
  "mark": {"type": "text", "align": "left", "fontSize": 14.5, "color": "#F23645", "xOffset": -2},
  "encoding": {"x": {"datum": "2026-02-26", "type": "ordinal"}, "y": {"datum": 0.833927, "type": "quantitative"}, "text": {"field": "t"}}},
 {"data": {"values": [{"logo": "X"}]},
  "mark": {"type": "point", "shape": "M-0.7,-0.85L0.7,0.85M0.55,-0.85L-0.45,0.3Q-0.75,0.6-0.45,0.85", "filled": false, "size": 1764, "opacity": 1, "color": "#000000", "strokeWidth": 7.5, "strokeCap": "round", "xOffset": 7},
  "encoding": {"x": {"datum": "2026-01-26", "type": "ordinal"}, "y": {"datum": 0.829681, "type": "quantitative"}}},
 {"data": {"values": [{"logo": "TV"}]},
  "mark": {"type": "point", "shape": "M-1.9,-0.85H-0.55V0.85H-1.15V-0.3H-1.9Z M-0.45,-0.45A0.38,0.38 0 1,0 0.31,-0.45A0.38,0.38 0 1,0 -0.45,-0.45Z M0.55,-0.85H1.9L1.0,0.85H-0.35Z", "filled": true, "size": 400, "opacity": 1, "strokeWidth": 0, "color": "#000000", "xOffset": 0},
  "encoding": {"x": {"datum": "2026-01-23", "type": "ordinal"}, "y": {"datum": 0.739448, "type": "quantitative"}}},
 {"data": {"values": [{"t": "TradingView"}]},
  "mark": {"type": "text", "align": "left", "font": "Inter", "fontSize": 24.5, "fontWeight": 700, "color": "#000000", "xOffset": -1},
  "encoding": {"x": {"datum": "2026-01-28", "type": "ordinal"}, "y": {"datum": 0.739448, "type": "quantitative"}, "text": {"field": "t"}}},
 {"data": {"values": [{"t": "@Fxrest.com"}]},
  "mark": {"type": "text", "align": "right", "font": "Liberation Serif", "fontSize": 32.5, "color": "#000000", "xOffset": 5},
  "encoding": {"x": {"datum": "2026-08-10", "type": "ordinal"}, "y": {"datum": 0.738505, "type": "quantitative"}, "text": {"field": "t"}}}
]},
{"layer": [
 {"data": {"values": [{"band": "30-70"}]},
  "mark": {"type": "rect", "xOffset": -2, "color": "#7E57C2", "opacity": 0.1},
  "encoding": {"x": {"datum": "2026-01-21", "type": "ordinal"}, "x2": {"datum": "2026-08-03"},
   "y": {"datum": 70, "type": "quantitative", "scale": {"domain": [-49.3, 554.7], "nice": false, "zero": false}}, "y2": {"datum": 30}}},
 {"data": {"name": "rsiLevels"},
  "mark": {"type": "rule", "xOffset": -2, "color": "#787B86", "strokeWidth": 1, "strokeDash": [7, 5]},
  "encoding": {"x": {"datum": "2026-01-21", "type": "ordinal"}, "x2": {"datum": "2026-08-03"}, "y": {"field": "v", "type": "quantitative"}}},
 {"data": {"name": "rsi"},
  "mark": {"type": "line", "color": "#801922", "strokeWidth": 2},
  "encoding": {"x": {"field": "d", "type": "ordinal"}, "y": {"field": "v", "type": "quantitative"}}},
 {"data": {"name": "rsiTicks"},
  "mark": {"type": "text", "align": "left", "fontSize": 15, "color": "#131722"},
  "encoding": {"x": {"datum": "2026-08-04", "type": "ordinal"}, "y": {"field": "v", "type": "quantitative"}, "text": {"field": "v", "type": "quantitative", "format": ".2f"}}},
 {"data": {"values": [{"v": 57.17}]},
  "mark": {"type": "point", "shape": "M-2.8,-0.8H2.8V0.8H-2.8Z", "filled": true, "size": 400, "opacity": 1, "strokeWidth": 0, "color": "#801922", "xOffset": 7},
  "encoding": {"x": {"datum": "2026-08-05", "type": "ordinal"}, "y": {"field": "v", "type": "quantitative"}}},
 {"data": {"values": [{"v": 57.17}]},
  "mark": {"type": "text", "fontSize": 14.5, "fontWeight": "bold", "color": "#FFFFFF", "xOffset": 7},
  "encoding": {"x": {"datum": "2026-08-05", "type": "ordinal"}, "y": {"field": "v", "type": "quantitative"}, "text": {"field": "v", "type": "quantitative", "format": ".2f"}}}
]}
],
"resolve": {"scale": {"y": "independent"}}
}
